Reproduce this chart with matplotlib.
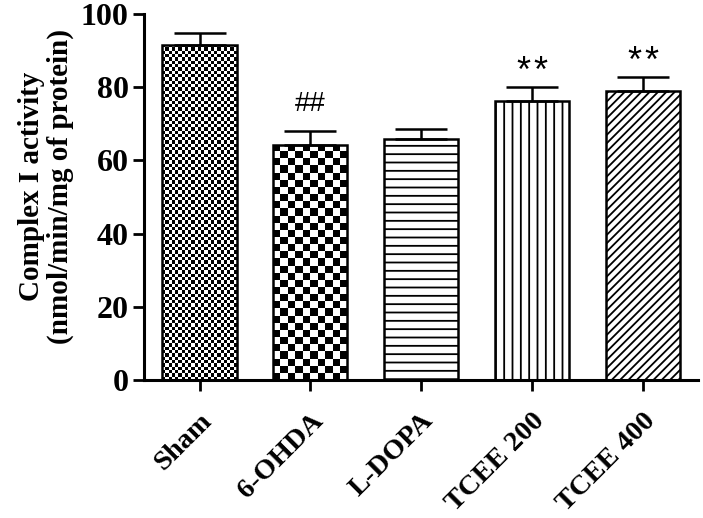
import numpy as np
import matplotlib.pyplot as plt
from matplotlib.transforms import ScaledTranslation

# data
groups = ["Sham", "6-OHDA", "L-DOPA", "TCEE 200", "TCEE 400"]
means = [91.5, 64.3, 65.8, 76.2, 78.9]
sems = [3.3, 3.7, 2.7, 3.8, 3.8]
marks = ["", "##", "", "**", "**"]

plt.rcParams['font.family'] = ['Liberation Serif', 'DejaVu Serif']
plt.rcParams['hatch.linewidth'] = 1.3

fig = plt.figure(figsize=(7.03, 5.18), dpi=100)
ax = fig.add_axes([0.205, 0.266, 0.788, 0.707])

x = np.arange(len(groups))
w = 0.67
bars = ax.bar(x, means, width=w, color='white', edgecolor='black', linewidth=1.8, zorder=2)
ax.errorbar(x, means, yerr=[np.zeros(len(sems)), sems], fmt='none', ecolor='black',
            elinewidth=1.8, capsize=19, capthick=1.8, zorder=3)

# checkerboard fill for the first two bars
def checker(bar, nx, ny):
    b = np.indices((ny, nx)).sum(axis=0) % 2
    x0 = bar.get_x()
    bar.set_facecolor('none')
    im = ax.imshow(b, cmap='gray', interpolation='nearest', aspect='auto',
                   extent=[x0, x0 + bar.get_width(), 0, bar.get_height()],
                   origin='lower', zorder=1.5)
    im.set_clip_path(bar)

checker(bars[0], 23, int(means[0] / 0.9))
checker(bars[1], 10, int(means[1] / 1.9))

bars[2].set_hatch('--')
bars[3].set_hatch('||')
bars[4].set_hatch('////')

ax.set_xlim(-0.5, 4.5)
ax.set_ylim(0, 100)

for i in range(len(groups)):
    if marks[i] == "##":
        ax.text(x[i], means[i] + sems[i] + 7.5, marks[i], ha='center', va='center',
                fontsize=20, family=['Liberation Sans'])
    elif marks[i]:
        # stars drawn one by one to get the small gap of the original
        n = len(marks[i])
        for k, c in enumerate(marks[i]):
            dx = (k - (n - 1) / 2) * 0.15
            ax.text(x[i] + dx, means[i] + sems[i] + 4, c, ha='center', va='center',
                    fontsize=26, family=['Liberation Sans'])

ax.set_yticks([0, 20, 40, 60, 80, 100])
ax.set_xticks(x)
ax.set_xticklabels(groups, rotation=45, ha='right', rotation_mode='anchor',
                   fontsize=20.5, fontweight='bold')
off = ScaledTranslation(-6 / 100, 0, fig.dpi_scale_trans)
for t in ax.get_xticklabels():
    t.set_transform(t.get_transform() + off)
for t in ax.get_yticklabels():
    t.set_fontsize(23)
    t.set_fontweight('bold')
ax.tick_params(axis='both', length=8, width=2, direction='out')
ax.tick_params(axis='x', pad=12)
ax.tick_params(axis='y', pad=3)

ax.set_ylabel("Complex I activity\n(nmol/min/mg of protein)", fontsize=21,
              fontweight='bold', linespacing=1.1)
ax.yaxis.set_label_coords(-0.126, 0.53)

for s in ['top', 'right']:
    ax.spines[s].set_visible(False)
for s in ['left', 'bottom']:
    ax.spines[s].set_linewidth(2.2)

fig.savefig('out.png', dpi=100)
